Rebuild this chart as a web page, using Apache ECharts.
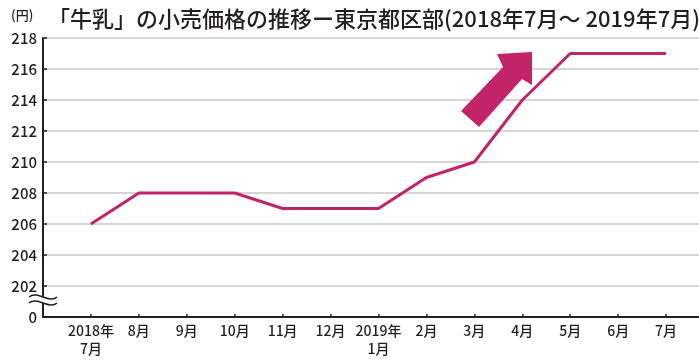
<!DOCTYPE html>
<html>
<head>
<meta charset="utf-8">
<script src="https://cdn.jsdelivr.net/npm/echarts@6/dist/echarts.min.js"></script>
<style>
  html, body { margin: 0; padding: 0; background: #fff; }
  #chart { width: 699px; height: 362px; }
</style>
</head>
<body>
<div id="chart"></div>
<script>
// Monthly retail price of milk, Tokyo wards (yen)
const months = ['2018年\n7月', '8月', '9月', '10月', '11月', '12月', '2019年\n1月', '2月', '3月', '4月', '5月', '6月', '7月'];
const prices = [206, 208, 208, 208, 207, 207, 207, 209, 210, 214, 217, 217, 217];
const yTicks = [200, 202, 204, 206, 208, 210, 212, 214, 216, 218];

const FONT = "'Noto Sans CJK JP', sans-serif";
const MAGENTA = '#c2246a';
const INK = '#231f20';

// pad the category axis with blank slots so the line starts one step in from the y axis
const cats = [''].concat(months, ['']);
const vals = [null].concat(prices, [null]);

// wavy break marker on the y axis
function wave(y) {
  return { x1: 29, y1: y, cpx1: 37, cpy1: y - 7, cpx2: 49, cpy2: y + 7, x2: 57, y2: y };
}
function wavePoints(y) {
  const pts = [];
  for (let i = 0; i <= 14; i++) {
    const t = i / 14;
    const u = 1 - t;
    const x = u*u*u*29 + 3*u*u*t*37 + 3*u*t*t*49 + t*t*t*57;
    const yy = u*u*u*y + 3*u*u*t*(y - 7) + 3*u*t*t*(y + 7) + t*t*t*y;
    pts.push([x, yy]);
  }
  return pts;
}
const breakFill = wavePoints(297).concat(wavePoints(303).reverse());

const chart = echarts.init(document.getElementById('chart'));
chart.setOption({
  animation: false,
  backgroundColor: '#fff',
  title: {
    text: '「牛乳」の小売価格の推移ー東京都区部(2018年7月～ 2019年7月)',
    left: 43,
    top: 3,
    textStyle: { fontFamily: FONT, fontSize: 22, fontWeight: 500, color: INK }
  },
  grid: { left: 43, right: -15, top: 38, bottom: 45, outerBoundsMode: 'none' },
  xAxis: {
    type: 'category',
    data: cats,
    boundaryGap: false,
    axisLine: { lineStyle: { color: INK, width: 2 } },
    axisTick: {
      inside: true, length: 3,
      interval: (i, v) => v !== '',
      lineStyle: { color: INK, width: 1.5 }
    },
    axisLabel: {
      interval: 0,
      margin: 5,
      fontFamily: FONT, fontSize: 14, fontWeight: 500, color: INK, lineHeight: 18
    },
    splitLine: { show: false }
  },
  yAxis: {
    type: 'value',
    min: 200, max: 218, interval: 2,
    axisLine: { show: true, lineStyle: { color: INK, width: 2 } },
    axisTick: { show: true, inside: true, length: 4, lineStyle: { color: INK, width: 1.5 } },
    axisLabel: {
      margin: 6,
      fontFamily: FONT, fontSize: 15, fontWeight: 500, color: INK,
      formatter: v => (v === yTicks[0] ? '0' : String(v))
    },
    splitLine: {
      show: true,
      lineStyle: { color: '#c8c8c8', width: 1.5 },
      showMinLine: false
    }
  },
  series: [{
    type: 'line',
    data: vals,
    symbol: 'none',
    connectNulls: false,
    lineStyle: { color: MAGENTA, width: 3 },
    z: 3
  }],
  graphic: [
    { // unit caption
      type: 'text', x: 11, y: 9,
      style: { text: '(円)', font: "500 13px 'Noto Sans CJK JP', sans-serif", fill: INK }
    },
    { // upward trend arrow
      type: 'polygon',
      shape: { points: [[461, 111], [503, 67], [497, 54], [532, 52], [532, 85], [522, 79], [479, 127]] },
      style: { fill: MAGENTA },
      z: 10
    },
    { // axis break marker: white gap
      type: 'polygon',
      shape: { points: breakFill },
      style: { fill: '#fff' },
      z: 20
    },
    {
      type: 'bezierCurve',
      shape: wave(297),
      style: { fill: null, stroke: INK, lineWidth: 1.5 },
      z: 21
    },
    {
      type: 'bezierCurve',
      shape: wave(303),
      style: { fill: null, stroke: INK, lineWidth: 1.5 },
      z: 21
    }
  ]
});
</script>
</body>
</html>
